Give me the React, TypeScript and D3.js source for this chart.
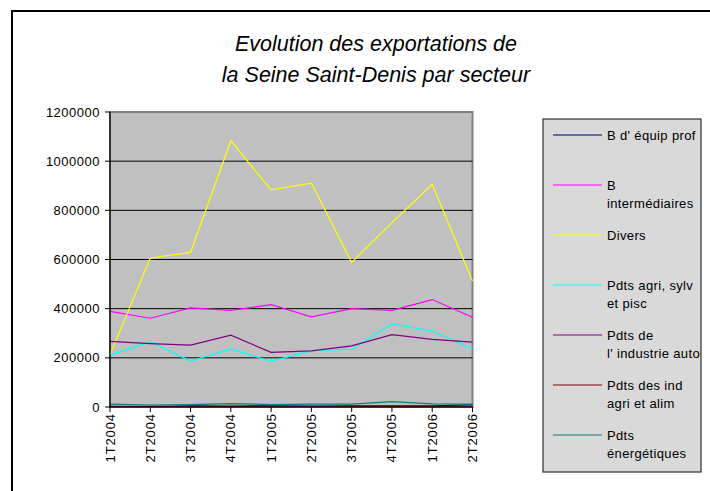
import * as d3 from "d3";

const quarters = ["1T2004", "2T2004", "3T2004", "4T2004", "1T2005", "2T2005", "3T2005", "4T2005", "1T2006", "2T2006"];

const equipProf = [3000, 2000, 5000, 4000, 5000, 4000, 5000, 5000, 5000, 9000];
const intermediaires = [389000, 361000, 403000, 393000, 416000, 367000, 400000, 393000, 437000, 365000];
const divers = [212000, 606000, 629000, 1083000, 883000, 911000, 588000, 750000, 906000, 512000];
const agriSylv = [211000, 266000, 187000, 236000, 186000, 229000, 235000, 338000, 309000, 236000];
const industrieAuto = [267000, 258000, 252000, 292000, 222000, 228000, 249000, 294000, 275000, 264000];
const indAgriAlim = [1000, 1000, 1000, 1500, 1000, 1000, 1000, 1500, 1000, 1000];
const energetiques = [12000, 8000, 10000, 14000, 10000, 12000, 12000, 22000, 13000, 12000];

const yTicks = [0, 200000, 400000, 600000, 800000, 1000000, 1200000];

const series = [
  { lines: ["B d'  équip prof"], color: "#000080", values: equipProf },
  { lines: ["B", "intermédiaires"], color: "#ff00ff", values: intermediaires },
  { lines: ["Divers"], color: "#ffff00", values: divers },
  { lines: ["Pdts agri, sylv", "et pisc"], color: "#00ffff", values: agriSylv },
  { lines: ["Pdts de", "l'  industrie auto"], color: "#800080", values: industrieAuto },
  { lines: ["Pdts des ind", "agri et alim"], color: "#800000", values: indAgriAlim },
  { lines: ["Pdts", "énergétiques"], color: "#008080", values: energetiques },
];

const font = "'Liberation Sans', Arial, sans-serif";

export default function App() {
  const width = 710;
  const height = 491;
  const plot = { left: 110, right: 472.5, top: 112, bottom: 407 };

  const x = d3
    .scalePoint<string>()
    .domain(quarters)
    .range([plot.left, plot.right]);
  const y = d3.scaleLinear().domain([0, 1200000]).range([plot.bottom, plot.top]);

  const line = d3
    .line<number>()
    .x((_, i) => x(quarters[i]) as number)
    .y((d) => y(d));

  const legend = { x: 543, y: 119, w: 158, h: 353 };

  return (
    <svg
      width={width}
      height={height}
      style={{ position: "absolute", left: 0, top: 0, background: "#fff" }}
      fontFamily={font}
    >
      {/* outer chart frame, cut off on the right and bottom */}
      <rect x={12} y={11} width={720} height={500} fill="#fff" stroke="#000" strokeWidth={2} />

      <text x={376} y={51} textAnchor="middle" fontSize={21.5} fontStyle="italic" fill="#000">
        Evolution des exportations de
      </text>
      <text x={376} y={82} textAnchor="middle" fontSize={21.5} fontStyle="italic" fill="#000">
        la Seine Saint-Denis par secteur
      </text>

      {/* plot area */}
      <rect
        x={plot.left}
        y={plot.top}
        width={plot.right - plot.left}
        height={plot.bottom - plot.top}
        fill="#c0c0c0"
        stroke="#808080"
        strokeWidth={2}
      />

      {yTicks.map((t) => (
        <g key={t}>
          {t > 0 && t < 1200000 && (
            <line x1={plot.left} x2={plot.right} y1={y(t)} y2={y(t)} stroke="#000" strokeWidth={1} />
          )}
          <line x1={plot.left - 5} x2={plot.left} y1={y(t)} y2={y(t)} stroke="#000" />
          <text
            x={plot.left - 10}
            y={y(t)}
            dy="0.35em"
            textAnchor="end"
            fontSize={13}
            letterSpacing={0.5}
            fill="#000"
          >
            {t}
          </text>
        </g>
      ))}

      {series.map((s) => (
        <path key={s.lines.join(" ")} d={line(s.values) ?? ""} fill="none" stroke={s.color} strokeWidth={1.2} />
      ))}

      {/* axes */}
      <line x1={plot.left} x2={plot.left} y1={plot.top} y2={plot.bottom} stroke="#000" strokeWidth={1.2} />
      <line x1={plot.left} x2={plot.right} y1={plot.bottom} y2={plot.bottom} stroke="#000" strokeWidth={1.2} />

      {quarters.map((q) => (
        <g key={q}>
          <line x1={x(q)} x2={x(q)} y1={plot.bottom} y2={plot.bottom + 5} stroke="#000" />
          <text
            transform={`translate(${(x(q) as number) + 4.5},${plot.bottom + 6}) rotate(-90)`}
            textAnchor="end"
            fontSize={13}
            letterSpacing={0.9}
            fill="#000"
          >
            {q}
          </text>
        </g>
      ))}

      {/* legend */}
      <rect x={legend.x} y={legend.y} width={legend.w} height={legend.h} fill="#d9d9d9" stroke="#303030" strokeWidth={1.2} />
      {series.map((s, i) => {
        const ly = 135 + i * 50;
        return (
          <g key={s.lines.join(" ")}>
            <line x1={553} x2={602} y1={ly} y2={ly} stroke={s.color} strokeWidth={1.2} />
            {s.lines.map((t, j) => (
              <text key={t} x={607} y={ly + j * 18} dy="0.35em" fontSize={13} letterSpacing={0.35} fill="#000">
                {t}
              </text>
            ))}
          </g>
        );
      })}
    </svg>
  );
}
